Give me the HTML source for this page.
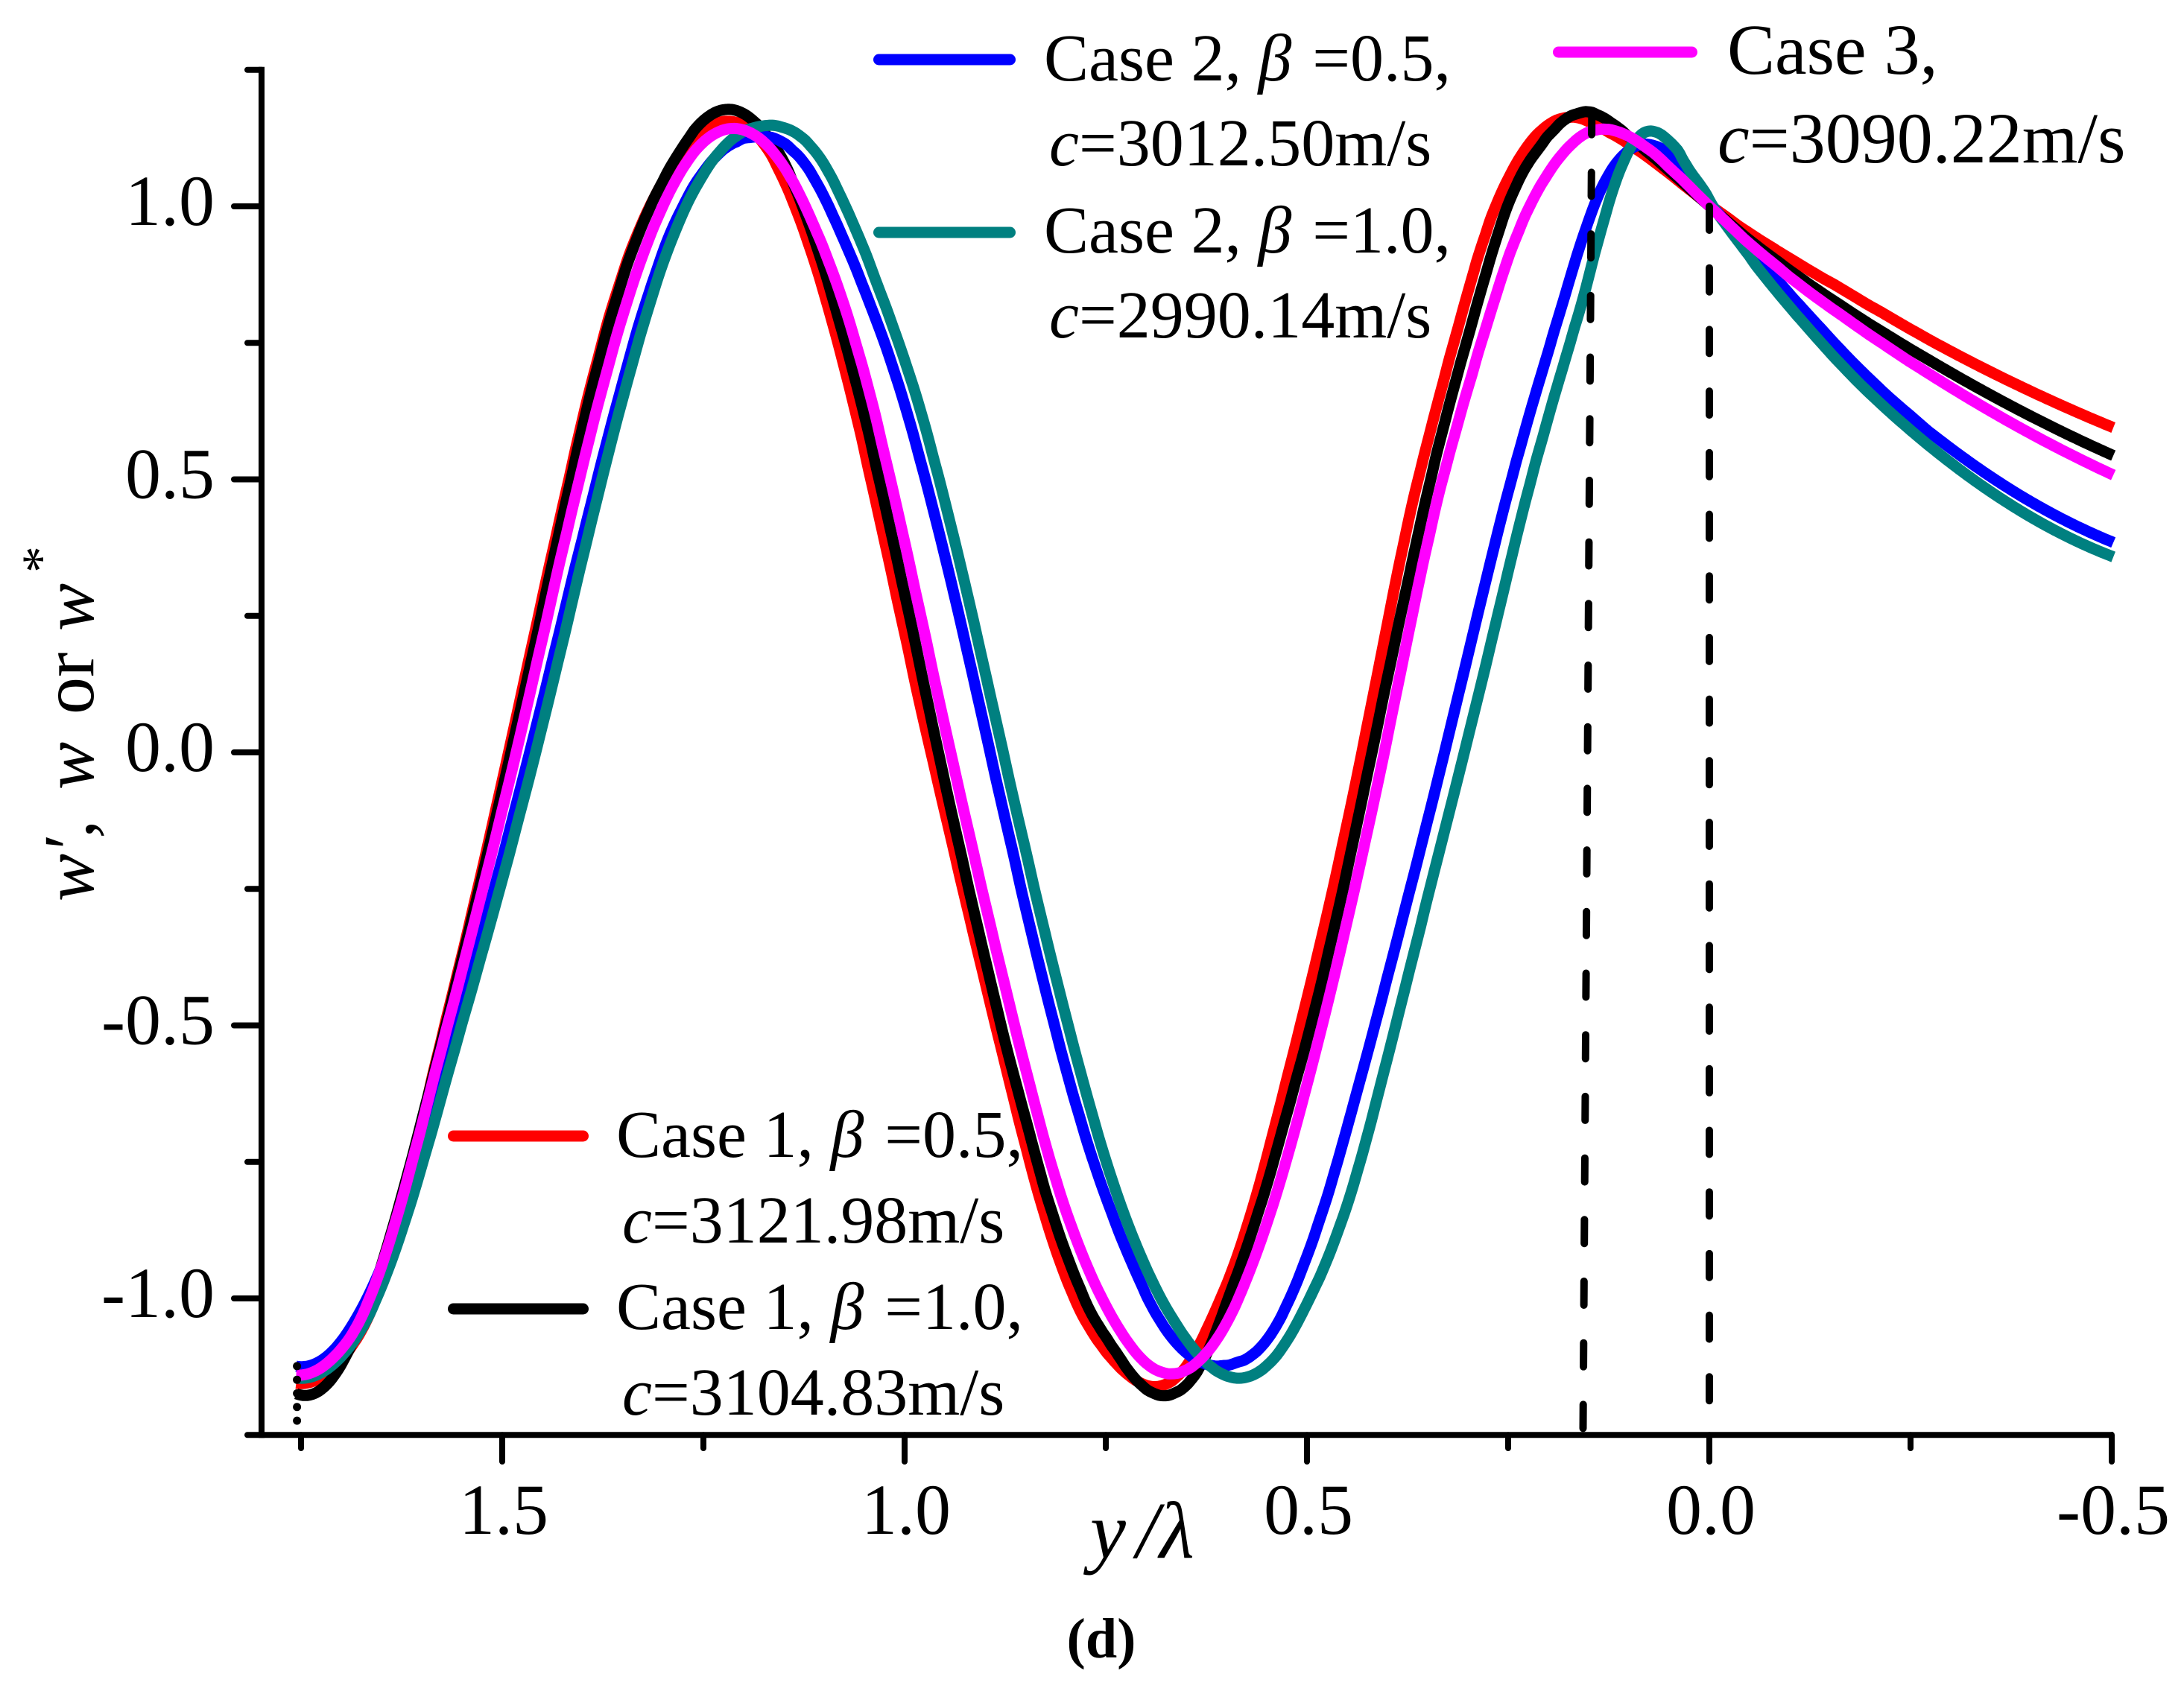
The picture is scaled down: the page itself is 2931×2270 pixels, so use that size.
<!DOCTYPE html>
<html>
<head>
<meta charset="utf-8">
<title>w profiles versus y/lambda</title>
<style>
html,body{margin:0;padding:0;background:#fff}
svg{display:block}
text{font-family:"Liberation Serif","Times New Roman",serif;fill:#000}
</style>
</head>
<body>
<svg id="chart" xmlns="http://www.w3.org/2000/svg" width="2931" height="2270" viewBox="0 0 2931 2270">
<rect width="2931" height="2270" fill="#fff"/>
<g id="series"></g>
<g id="guides"></g>
<g id="axes"></g>

<g font-size="96">
<text transform="translate(125,1210) rotate(-90)" font-style="italic">w′,</text>
<text transform="translate(125,1060) rotate(-90)" font-style="italic">w</text>
<text transform="translate(125,959) rotate(-90)" font-size="100">or</text>
<text transform="translate(125,847) rotate(-90)" font-style="italic">w</text>
<text transform="translate(79,769) rotate(-90)" font-size="72">*</text>
</g>

<g font-size="108" font-style="italic">
<text x="1463" y="2091">y</text>
<text x="1525" y="2091">/</text>
<text x="1556" y="2091">λ</text>
</g>
<text x="1478" y="2225" font-size="76" font-weight="bold" text-anchor="middle">(d)</text>

<g font-size="90">
<line x1="1179.5" x2="1355.5" y1="80" y2="80" stroke="#0000ff" stroke-width="15" stroke-linecap="round"/>
<text x="1401" y="108">Case 2, <tspan font-style="italic">β</tspan><tspan dx="28">=0.5,</tspan></text>
<text x="1408" y="222"><tspan font-style="italic">c</tspan>=3012.50m/s</text>
<line x1="1179.5" x2="1355.5" y1="312" y2="312" stroke="#008080" stroke-width="15" stroke-linecap="round"/>
<text x="1401" y="339">Case 2, <tspan font-style="italic">β</tspan><tspan dx="28">=1.0,</tspan></text>
<text x="1408" y="453"><tspan font-style="italic">c</tspan>=2990.14m/s</text>
</g>
<g font-size="96">
<line x1="2091.5" x2="2270.5" y1="70" y2="70" stroke="#ff00ff" stroke-width="15" stroke-linecap="round"/>
<text x="2318" y="99">Case 3,</text>
<text x="2305" y="218"><tspan font-style="italic">c</tspan>=3090.22m/s</text>
</g>
<g font-size="90">
<line x1="608.5" x2="782.5" y1="1525" y2="1525" stroke="#ff0000" stroke-width="15" stroke-linecap="round"/>
<text x="827" y="1553">Case 1, <tspan font-style="italic">β</tspan><tspan dx="28">=0.5,</tspan></text>
<text x="835" y="1668"><tspan font-style="italic">c</tspan>=3121.98m/s</text>
<line x1="608.5" x2="782.5" y1="1757" y2="1757" stroke="#000000" stroke-width="15" stroke-linecap="round"/>
<text x="827" y="1784">Case 1, <tspan font-style="italic">β</tspan><tspan dx="28">=1.0,</tspan></text>
<text x="835" y="1899"><tspan font-style="italic">c</tspan>=3104.83m/s</text>
</g>
</svg>
<script>
const xMajorTicks=[1.5,1.0,0.5,0.0,-0.5];
const xMajorLabels=["1.5","1.0","0.5","0.0","-0.5"];
const xMinorTicks=[1.75,1.25,0.75,0.25,-0.25];
const yMajorTicks=[1.0,0.5,0.0,-0.5,-1.0];
const yMajorLabels=["1.0","0.5","0.0","-0.5","-1.0"];
const yMinorTicks=[1.25,0.75,0.25,-0.25,-0.75,-1.25];

const case1Beta05Y=[1.756,1.738,1.717,1.698,1.680,1.661,1.645,1.629,1.602,1.573,1.544,1.513,1.492,1.466,1.441,1.414,1.388,1.354,1.301,1.269,1.243,1.215,1.194,1.161,1.145,1.125,1.107,1.071,1.045,1.019,0.994,0.944,0.913,0.885,0.857,0.819,0.811,0.800,0.786,0.769,0.747,0.726,0.701,0.684,0.658,0.640,0.624,0.610,0.598,0.585,0.575,0.540,0.510,0.481,0.454,0.429,0.419,0.395,0.371,0.342,0.319,0.306,0.289,0.267,0.252,0.237,0.214,0.192,0.168,0.126,0.098,0.067,0.036,0,-0.043,-0.085,-0.172,-0.258,-0.344,-0.431,-0.502];
const case1Beta05W=[-1.157,-1.151,-1.136,-1.109,-1.068,-1.016,-0.959,-0.857,-0.682,-0.509,-0.334,-0.150,0.014,0.171,0.344,0.518,0.692,0.866,1.040,1.109,1.143,1.158,1.143,1.078,1.040,0.954,0.866,0.692,0.518,0.344,0.171,-0.150,-0.334,-0.509,-0.682,-0.873,-0.918,-0.965,-1.010,-1.055,-1.101,-1.136,-1.157,-1.161,-1.142,-1.101,-1.055,-1.010,-0.965,-0.918,-0.873,-0.682,-0.509,-0.334,-0.161,0.014,0.098,0.273,0.446,0.621,0.727,0.814,0.905,0.996,1.041,1.087,1.132,1.157,1.162,1.134,1.111,1.080,1.045,1.000,0.955,0.921,0.844,0.768,0.698,0.641,0.595];

const case1Beta10Y=[1.756,1.746,1.720,1.707,1.698,1.684,1.671,1.633,1.602,1.572,1.543,1.511,1.488,1.463,1.438,1.411,1.386,1.352,1.300,1.273,1.250,1.226,1.214,1.201,1.186,1.155,1.135,1.116,1.098,1.062,1.034,1.008,0.984,0.934,0.909,0.876,0.850,0.807,0.800,0.789,0.774,0.756,0.735,0.714,0.700,0.686,0.661,0.640,0.622,0.612,0.601,0.589,0.578,0.566,0.529,0.498,0.466,0.442,0.419,0.405,0.379,0.356,0.327,0.305,0.289,0.273,0.252,0.240,0.221,0.195,0.177,0.159,0.131,0.106,0.087,0.056,0.025,0,-0.043,-0.085,-0.172,-0.258,-0.344,-0.431,-0.502];
const case1Beta10W=[-1.175,-1.177,-1.160,-1.139,-1.116,-1.072,-1.027,-0.857,-0.682,-0.509,-0.334,-0.150,0.014,0.171,0.344,0.518,0.692,0.866,1.040,1.117,1.156,1.176,1.179,1.171,1.153,1.091,1.040,0.954,0.866,0.692,0.518,0.344,0.171,-0.150,-0.334,-0.509,-0.682,-0.873,-0.918,-0.965,-1.010,-1.055,-1.101,-1.146,-1.169,-1.177,-1.169,-1.142,-1.101,-1.055,-1.010,-0.965,-0.918,-0.873,-0.682,-0.509,-0.334,-0.161,0.014,0.098,0.273,0.446,0.621,0.727,0.814,0.905,0.996,1.041,1.087,1.132,1.160,1.183,1.157,1.135,1.109,1.074,1.033,1.000,0.945,0.898,0.813,0.730,0.660,0.593,0.543];

const case2Beta05Y=[1.756,1.735,1.719,1.705,1.689,1.673,1.656,1.628,1.591,1.558,1.527,1.489,1.465,1.438,1.407,1.379,1.349,1.312,1.265,1.226,1.180,1.143,1.121,1.106,1.090,1.078,1.054,1.012,0.976,0.948,0.920,0.871,0.841,0.812,0.781,0.733,0.723,0.710,0.694,0.675,0.652,0.631,0.603,0.566,0.547,0.534,0.519,0.504,0.488,0.448,0.419,0.386,0.356,0.327,0.313,0.284,0.256,0.224,0.202,0.183,0.166,0.156,0.144,0.131,0.115,0.094,0.071,0.047,0.031,0.010,0,-0.043,-0.085,-0.172,-0.258,-0.344,-0.431,-0.502];
const case2Beta05W=[-1.124,-1.121,-1.109,-1.087,-1.055,-1.014,-0.962,-0.857,-0.682,-0.509,-0.334,-0.150,0.014,0.171,0.344,0.518,0.692,0.866,1.040,1.098,1.123,1.109,1.078,1.033,0.986,0.941,0.866,0.692,0.518,0.344,0.171,-0.150,-0.334,-0.509,-0.682,-0.873,-0.918,-0.965,-1.010,-1.055,-1.101,-1.115,-1.123,-1.096,-1.074,-1.041,-0.996,-0.932,-0.873,-0.682,-0.509,-0.334,-0.161,0.014,0.098,0.273,0.446,0.621,0.723,0.814,0.905,0.951,0.996,1.041,1.087,1.101,1.116,1.094,1.068,1.030,1.000,0.930,0.870,0.720,0.603,0.513,0.437,0.382];

const case2Beta10Y=[1.756,1.729,1.710,1.692,1.677,1.661,1.645,1.622,1.585,1.553,1.520,1.483,1.456,1.431,1.401,1.373,1.344,1.306,1.260,1.225,1.198,1.168,1.136,1.112,1.090,1.071,1.060,1.036,0.994,0.959,0.931,0.904,0.855,0.824,0.795,0.764,0.719,0.709,0.694,0.677,0.659,0.636,0.618,0.590,0.566,0.547,0.529,0.513,0.497,0.482,0.469,0.460,0.421,0.392,0.362,0.332,0.302,0.288,0.259,0.231,0.201,0.177,0.160,0.144,0.126,0.118,0.106,0.094,0.073,0.052,0.031,0.016,0,-0.043,-0.085,-0.172,-0.258,-0.344,-0.431,-0.502];
const case2Beta10W=[-1.147,-1.136,-1.121,-1.094,-1.060,-1.016,-0.965,-0.857,-0.682,-0.509,-0.334,-0.150,0.014,0.171,0.344,0.518,0.692,0.866,1.040,1.109,1.135,1.147,1.135,1.101,1.055,1.000,0.941,0.866,0.692,0.518,0.344,0.171,-0.150,-0.334,-0.509,-0.682,-0.873,-0.918,-0.965,-1.010,-1.055,-1.101,-1.128,-1.145,-1.139,-1.121,-1.087,-1.048,-1.000,-0.951,-0.910,-0.873,-0.682,-0.509,-0.334,-0.161,0.014,0.098,0.273,0.446,0.621,0.723,0.814,0.905,0.996,1.041,1.087,1.119,1.136,1.123,1.082,1.045,1.000,0.921,0.844,0.698,0.577,0.488,0.405,0.357];

const case3Y=[1.756,1.732,1.717,1.701,1.686,1.670,1.655,1.633,1.600,1.570,1.540,1.504,1.483,1.455,1.429,1.401,1.373,1.335,1.288,1.255,1.235,1.212,1.184,1.168,1.152,1.134,1.107,1.086,1.048,1.021,0.994,0.969,0.920,0.890,0.861,0.832,0.792,0.780,0.765,0.751,0.735,0.710,0.692,0.673,0.652,0.631,0.612,0.596,0.578,0.562,0.553,0.513,0.483,0.454,0.427,0.402,0.390,0.366,0.342,0.309,0.286,0.270,0.252,0.224,0.207,0.189,0.164,0.136,0.108,0.087,0.056,0.025,0,-0.043,-0.085,-0.172,-0.258,-0.344,-0.431,-0.502];
const case3W=[-1.142,-1.130,-1.116,-1.096,-1.064,-1.019,-0.965,-0.857,-0.682,-0.509,-0.334,-0.150,0.014,0.171,0.344,0.518,0.692,0.866,1.040,1.109,1.135,1.143,1.126,1.109,1.078,1.033,0.941,0.866,0.692,0.518,0.344,0.171,-0.150,-0.334,-0.509,-0.682,-0.873,-0.918,-0.965,-1.010,-1.055,-1.101,-1.128,-1.141,-1.130,-1.109,-1.078,-1.033,-0.973,-0.918,-0.873,-0.682,-0.509,-0.334,-0.161,0.014,0.098,0.273,0.446,0.621,0.727,0.814,0.905,0.996,1.041,1.087,1.123,1.142,1.135,1.115,1.078,1.037,1.000,0.936,0.889,0.794,0.708,0.628,0.561,0.507];

const peakGuideY=[0.146,0.157];
const peakGuideW=[1.175,-1.25];
const originGuideY=[0,0];
const originGuideW=[1.0,-1.25];
const startGuideY=[1.755,1.755];
const startGuideW=[-1.124,-1.228];

function xAxis(u){return 2294-1080*u;}
function yAxis(v){return 1010-733*v;}
const NS='http://www.w3.org/2000/svg';
function make(tag,parent,attrs){
  const el=document.createElementNS(NS,tag);
  for(const k in attrs){el.setAttribute(k,attrs[k]);}
  parent.appendChild(el);
  return el;
}
/* Local quadratic regression of the read values over x: removes the hand-reading jitter. */
function smoothPath(us,vs){
  const px=us.map(xAxis),py=vs.map(yAxis);
  const x0=px[0],x1=px[px.length-1],n=Math.ceil((x1-x0)/3),k=7;
  let d='';
  for(let j=0;j<=n;j++){
    const q=x0+(x1-x0)*j/n;
    const ds=px.map(v=>Math.abs(v-q)).sort((a,b)=>a-b);
    const h=ds[Math.min(k-1,ds.length-1)]*1.25||1;
    let S0=0,S1=0,S2=0,S3=0,S4=0,b0=0,b1=0,b2=0;
    for(let i=0;i<px.length;i++){
      const t=(px[i]-q)/h,a=Math.abs(t);
      if(a>=1){continue;}
      const c=1-a*a*a,w=c*c*c;
      S0+=w;S1+=w*t;S2+=w*t*t;S3+=w*t*t*t;S4+=w*t*t*t*t;
      b0+=w*py[i];b1+=w*t*py[i];b2+=w*t*t*py[i];
    }
    const det=S0*(S2*S4-S3*S3)-S1*(S1*S4-S3*S2)+S2*(S1*S3-S2*S2);
    const y=(b0*(S2*S4-S3*S3)-S1*(b1*S4-S3*b2)+S2*(b1*S3-S2*b2))/det;
    d+=(j?'L':'M')+q.toFixed(1)+' '+y.toFixed(1);
  }
  return d;
}
const seriesLayer=document.getElementById('series');
const guideLayer=document.getElementById('guides');
const axesLayer=document.getElementById('axes');

function drawCurve(name,us,vs,color){
  const el=make('path',seriesLayer,{d:smoothPath(us,vs),fill:'none',stroke:color,'stroke-width':15,'stroke-linejoin':'round'});
  
  
}
drawCurve('curve-case-1-beta-0-5',case1Beta05Y,case1Beta05W,'#ff0000');
drawCurve('curve-case-1-beta-1-0',case1Beta10Y,case1Beta10W,'#000000');
drawCurve('curve-case-2-beta-0-5',case2Beta05Y,case2Beta05W,'#0000ff');
drawCurve('curve-case-2-beta-1-0',case2Beta10Y,case2Beta10W,'#008080');
drawCurve('curve-case-3',case3Y,case3W,'#ff00ff');

function drawGuide(name,us,vs,width,dash){
  const el=make('line',guideLayer,{x1:xAxis(us[0]),y1:yAxis(vs[0]),x2:xAxis(us[1]),y2:yAxis(vs[1]),stroke:'#000','stroke-width':width,'stroke-linecap':'round','stroke-dasharray':dash});
  
  
}
drawGuide('peak-dashed-guide',peakGuideY,peakGuideW,10,'32 50.7');
drawGuide('origin-dashed-guide',originGuideY,originGuideW,10,'32 50.7');
drawGuide('start-dotted-guide',startGuideY,startGuideW,11,'0 18.3');

const yLine=make('line',axesLayer,{x1:351,x2:351,y1:yAxis(1.25),y2:yAxis(-1.25),stroke:'#000','stroke-width':8,'stroke-linecap':'square'});


const xLine=make('line',axesLayer,{x1:351,x2:xAxis(-0.5)+2,y1:yAxis(-1.25),y2:yAxis(-1.25),stroke:'#000','stroke-width':8});



xMajorTicks.forEach((t,i)=>{
  const x=xAxis(t);
  const tick=make('line',axesLayer,{x1:x,x2:x,y1:yAxis(-1.25),y2:1962,stroke:'#000','stroke-width':8,'stroke-linecap':'round'});
  
  
  const label=make('text',axesLayer,{x:x+2,y:2059,'font-size':96,'text-anchor':'middle'});
  label.textContent=xMajorLabels[i];
  
  
});
xMinorTicks.forEach(t=>{
  const x=xAxis(t);
  const tick=make('line',axesLayer,{x1:x,x2:x,y1:yAxis(-1.25),y2:1944,stroke:'#000','stroke-width':8,'stroke-linecap':'round'});
  
  
});
yMajorTicks.forEach((t,i)=>{
  const y=yAxis(t);
  const tick=make('line',axesLayer,{x1:314,x2:351,y1:y,y2:y,stroke:'#000','stroke-width':8,'stroke-linecap':'round'});
  
  
  const label=make('text',axesLayer,{x:288,y:y+25,'font-size':96,'text-anchor':'end'});
  label.textContent=yMajorLabels[i];
  
  
});
yMinorTicks.forEach(t=>{
  const y=yAxis(t);
  const tick=make('line',axesLayer,{x1:332,x2:351,y1:y,y2:y,stroke:'#000','stroke-width':8,'stroke-linecap':'round'});
  
  
});
</script>
</body>
</html>
